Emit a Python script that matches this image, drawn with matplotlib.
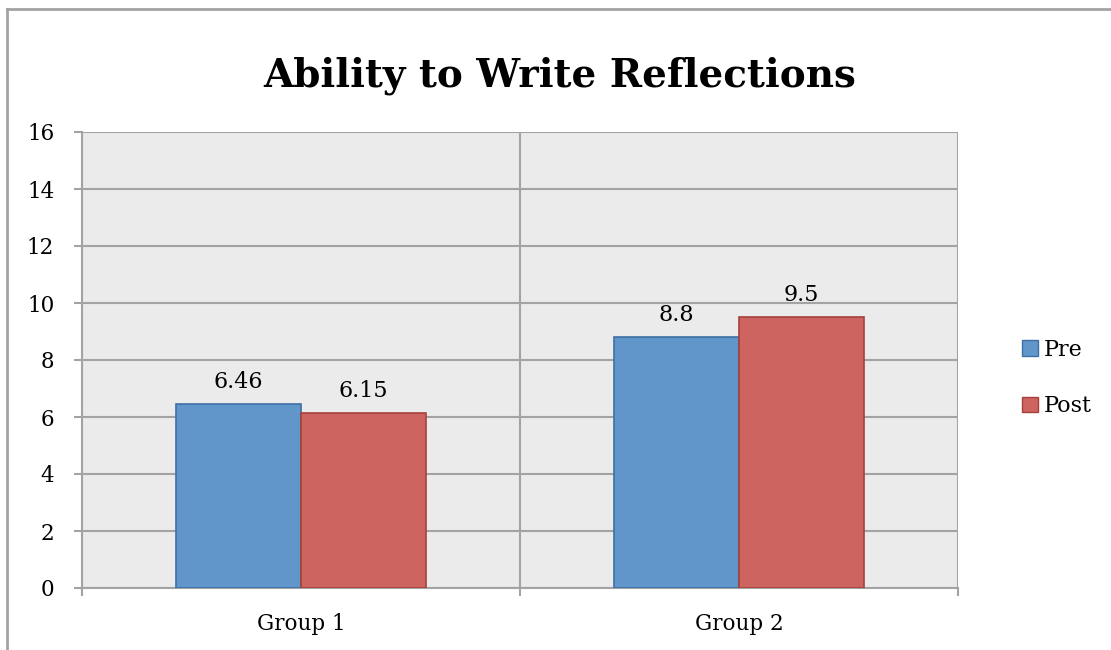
import matplotlib
matplotlib.use("Agg")
import matplotlib.pyplot as plt
from matplotlib.patches import Patch
import numpy as np

categories = ["Group 1", "Group 2"]
series_names = ["Pre", "Post"]
pre_values = [6.46, 8.8]
post_values = [6.15, 9.5]
pre_labels = ["6.46", "8.8"]
post_labels = ["6.15", "9.5"]
y_ticks = [0, 2, 4, 6, 8, 10, 12, 14, 16]
title = "Ability to Write Reflections"

plt.rcParams['font.family'] = ['DejaVu Serif']

W, H = 1111, 650
fig = plt.figure(figsize=(W / 100, H / 100), dpi=100)
fig.patch.set_facecolor("white")

grid_c = "#a3a3a3"
fig.add_artist(plt.Line2D([7 / W, 7 / W], [0, 1 - 9 / H], color=grid_c, lw=2, transform=fig.transFigure))
fig.add_artist(plt.Line2D([7 / W, 1], [1 - 9 / H, 1 - 9 / H], color=grid_c, lw=2, transform=fig.transFigure))

ax = fig.add_axes([82 / W, (H - 588) / H, (958 - 82) / W, (588 - 132) / H])
ax.set_facecolor("#ebebeb")

x = np.arange(len(categories))
bw = 1 / 3.5
blue, blue_e = "#6096c9", "#3e6fa4"
red, red_e = "#cd645f", "#a5403b"
b1 = ax.bar(x - bw / 2, pre_values, bw, color=blue, edgecolor=blue_e, linewidth=1.2, zorder=3)
b2 = ax.bar(x + bw / 2, post_values, bw, color=red, edgecolor=red_e, linewidth=1.2, zorder=3)

for bars, labs in ((b1, pre_labels), (b2, post_labels)):
    for r, lab in zip(bars, labs):
        ax.annotate(lab, (r.get_x() + r.get_width() / 2, r.get_height()),
                    xytext=(0, 8), textcoords="offset points", ha="center", va="bottom",
                    fontsize=16, zorder=5)

ax.set_xlim(-0.5, len(categories) - 0.5)
ax.set_ylim(0, 16)
ax.set_yticks(y_ticks)
ax.set_yticklabels([str(v) for v in y_ticks], fontsize=15.5)
ax.set_xticks(x)
ax.set_xticklabels(categories, fontsize=15.5)
ax.set_xticks(np.arange(-0.5, len(categories)), minor=True)
ax.tick_params(axis="x", which="major", length=0, pad=18)
ax.tick_params(axis="x", which="minor", length=6, width=1.5, color=grid_c)
ax.tick_params(axis="y", length=6, width=1.5, color=grid_c, pad=14)

ax.yaxis.grid(True, color=grid_c, lw=1.5, zorder=0)
ax.xaxis.grid(True, which="minor", color=grid_c, lw=1.5, zorder=0)
ax.set_axisbelow(True)
for s in ax.spines.values():
    s.set_visible(False)
for side in ("left", "bottom"):
    ax.spines[side].set_visible(True)
    ax.spines[side].set_color(grid_c)
    ax.spines[side].set_linewidth(1.5)

fig.text(560 / W, 1 - 76 / H, title, ha="center", va="center", fontsize=28, fontweight="bold")

handles = [Patch(facecolor=blue, edgecolor=blue_e), Patch(facecolor=red, edgecolor=red_e)]
fig.legend(handles, series_names, loc="center left", bbox_to_anchor=(1002 / W, 1 - 378 / H),
           frameon=False, fontsize=16, handlelength=0.7, handleheight=0.7,
           handletextpad=0.3, labelspacing=1.55)

fig.savefig("out.png", dpi=100)
